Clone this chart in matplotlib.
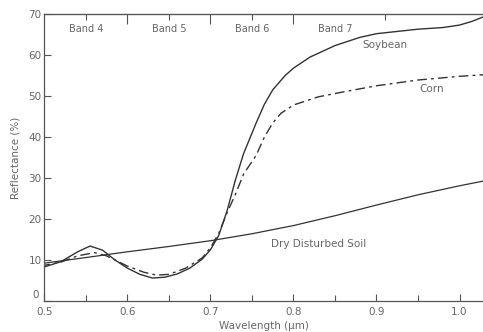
import matplotlib
matplotlib.use("Agg")
import matplotlib.pyplot as plt

# Data (wavelength in micrometres, reflectance in %)
soy_wl = [0.495, 0.52, 0.54, 0.555, 0.57, 0.585, 0.6, 0.615, 0.63, 0.645, 0.66, 0.675,
          0.69, 0.70, 0.71, 0.72, 0.73, 0.74, 0.755, 0.765, 0.775, 0.79, 0.80, 0.82,
          0.85, 0.88, 0.90, 0.95, 0.98, 1.00, 1.015, 1.03]
soy_r = [8.0, 9.6, 12.0, 13.4, 12.4, 10.0, 8.0, 6.5, 5.6, 5.8, 6.6, 8.0,
         10.2, 12.5, 16.0, 22.0, 29.5, 36.0, 43.4, 48.0, 51.5, 55.0, 56.8, 59.5,
         62.3, 64.3, 65.2, 66.3, 66.7, 67.3, 68.2, 69.4]

corn_wl = [0.495, 0.52, 0.54, 0.56, 0.575, 0.6, 0.62, 0.635, 0.65, 0.67, 0.69, 0.70,
           0.71, 0.72, 0.73, 0.74, 0.755, 0.765, 0.775, 0.785, 0.80, 0.83, 0.86, 0.90,
           0.95, 1.00, 1.03]
corn_r = [8.5, 9.5, 11.0, 11.8, 11.0, 8.5, 7.0, 6.3, 6.5, 8.0, 10.5, 13.0,
          16.5, 21.5, 26.0, 31.0, 35.5, 40.0, 43.4, 45.8, 47.8, 49.8, 51.0, 52.5,
          53.9, 54.8, 55.2]

soil_wl = [0.495, 0.55, 0.6, 0.65, 0.7, 0.75, 0.8, 0.85, 0.9, 0.95, 1.0, 1.03]
soil_r = [9.1, 10.6, 12.0, 13.3, 14.7, 16.4, 18.4, 20.8, 23.4, 25.9, 28.1, 29.3]

band_names = ["Band 4", "Band 5", "Band 6", "Band 7"]
band_centers = [0.55, 0.65, 0.75, 0.85]

xticks = [0.5, 0.6, 0.7, 0.8, 0.9, 1.0]
xticklabels = ["0.5", "0.6", "0.7", "0.8", "0.9", "1.0"]
yticks = [0, 10, 20, 30, 40, 50, 60, 70]

txt = "#666666"
ln = "#333333"

fig = plt.figure(figsize=(4.83, 3.32), dpi=100)
ax = fig.add_axes([0.092, 0.0934, 0.908, 0.8644])

ax.plot(soy_wl, soy_r, color=ln, lw=1.0)
ax.plot(corn_wl, corn_r, color=ln, lw=1.0, linestyle=(0, (7, 3, 2, 3)))
ax.plot(soil_wl, soil_r, color=ln, lw=0.9)

ax.set_xlim(0.5, 1.0283)
ax.set_ylim(0, 70)

ax.spines["right"].set_visible(False)
for s in ["left", "bottom", "top"]:
    ax.spines[s].set_color("#555555")
    ax.spines[s].set_linewidth(0.9)

ax.set_xticks(xticks)
ax.set_xticklabels(xticklabels)
ax.set_xticks([0.55, 0.65, 0.75, 0.85, 0.95], minor=True)
ax.set_yticks(yticks)
ax.set_yticklabels([str(v) if v else "" for v in yticks])
ax.tick_params(axis="both", which="both", direction="in", colors="#555555",
               labelcolor=txt, labelsize=7.5, width=0.8)
ax.tick_params(axis="x", which="major", length=5, pad=4)
ax.tick_params(axis="x", which="minor", length=4)
ax.tick_params(axis="y", which="major", length=5, pad=2)
ax.text(0.493, 0.2, "0", ha="right", va="bottom", fontsize=7.5, color=txt)

top = ax.secondary_xaxis("top")
top.set_xticks([0.6, 0.7, 0.8])
top.set_xticks([0.55, 0.65, 0.75, 0.91], minor=True)
top.set_xticklabels([])
top.tick_params(which="major", direction="in", length=7, colors="#555555", width=0.8)
top.tick_params(which="minor", direction="in", length=4, colors="#555555", width=0.8)
top.spines["top"].set_color("#555555")

for name, c in zip(band_names, band_centers):
    ax.text(c, 66.3, name, ha="center", va="center", fontsize=7, color=txt)

ax.text(0.91, 62.4, "Soybean", ha="center", va="center", fontsize=7.5, color=txt)
ax.text(0.967, 51.7, "Corn", ha="center", va="center", fontsize=7.5, color=txt)
ax.text(0.83, 14.0, "Dry Disturbed Soil", ha="center", va="center", fontsize=7.5, color=txt)

ax.set_ylabel("Reflectance (%)", fontsize=7.5, color=txt, labelpad=6)
ax.set_xlabel("Wavelength (\u03bcm)", fontsize=7.5, color=txt, labelpad=3)

fig.savefig("out.png", dpi=100)
